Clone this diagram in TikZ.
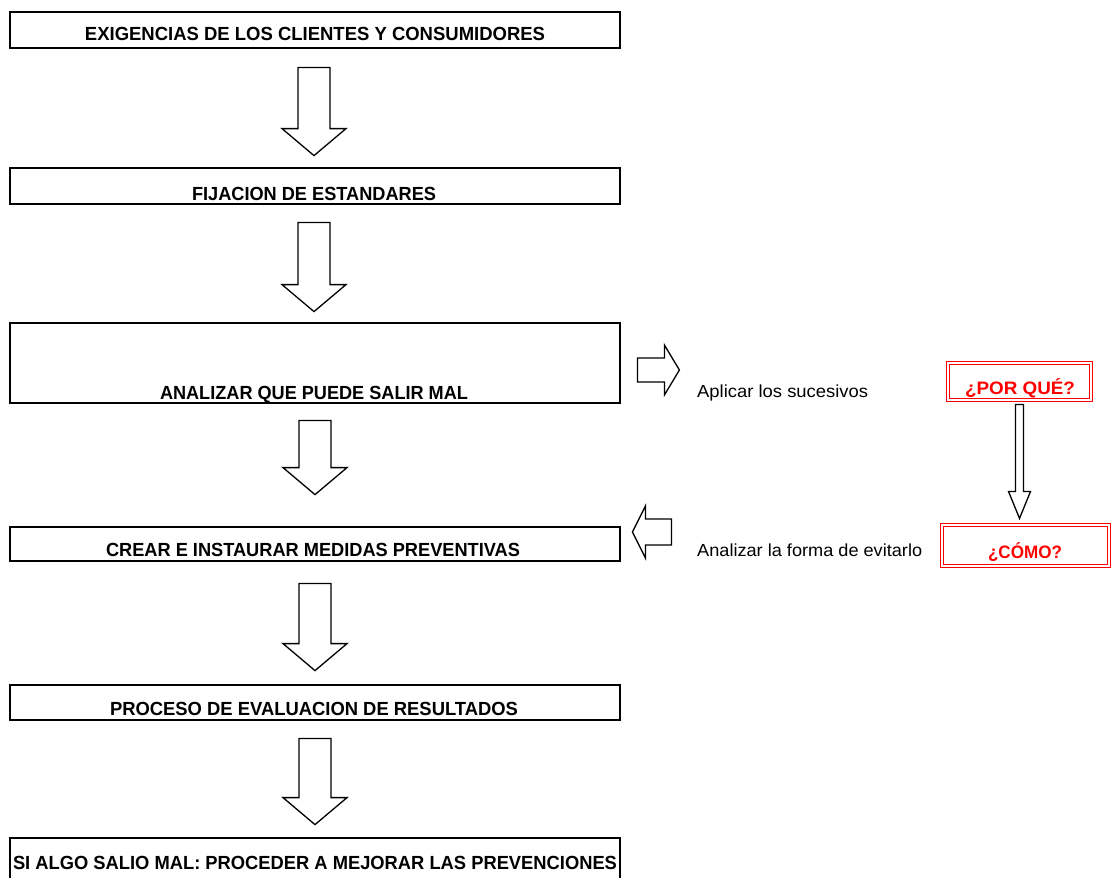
\documentclass[tikz,border=0pt]{standalone}
\usepackage{fontspec}
\setmainfont{Liberation Sans}
\usetikzlibrary{calc}
\newcommand\fitto[2]{\setbox0\hbox{#2}\pgfmathsetmacro\fitfac{#1/\the\wd0}\scalebox{\fitfac}[1]{\box0}}
\newcommand\downblock[4]{\draw[blk] let \p1=(#1),\p2=(#2) in
  (\x1-#3,\y1) -- (\x1+#3,\y1) -- (\x1+#3,\y2+27pt) -- (\x1+#4,\y2+27pt) -- (\x1,\y2)
  -- (\x1-#4,\y2+27pt) -- (\x1-#3,\y2+27pt) -- cycle;}
\newcommand\sideblock[5]{\draw[blk] let \p1=(#1),\p2=(#2) in
  (\x1,\y1-#3) -- (\x1,\y1+#3) -- (\x2-#5,\y1+#3) -- (\x2-#5,\y1+#4) -- (\x2,\y1)
  -- (\x2-#5,\y1-#4) -- (\x2-#5,\y1-#3) -- cycle;}
\begin{document}
\begin{tikzpicture}[x=1pt,y=-1pt,
  box/.style={draw=black,line width=2.8pt,minimum width=610pt,inner sep=0pt},
  btxt/.style={anchor=base,inner sep=0pt,font=\fontsize{19}{21}\selectfont\bfseries},
  stxt/.style={anchor=base west,inner sep=0pt,font=\fontsize{17.5}{20}\selectfont},
  rbox/.style={draw=red,line width=1.1pt,double=white,double distance=2.2pt,inner sep=0pt},
  rtxt/.style={anchor=base,inner sep=0pt,text=red,font=\fontsize{18}{20}\selectfont\bfseries},
  blk/.style={draw=black,line width=1.3pt,fill=white,line join=miter}]
\useasboundingbox (0,0) rectangle (1111,878);
% main boxes
\node[box,minimum height=36pt] (b1) at (315,30) {};
\node[box,minimum height=36pt] (b2) at (315,186) {};
\node[box,minimum height=80pt] (b3) at (315,363) {};
\node[box,minimum height=34pt] (b4) at (315,544) {};
\node[box,minimum height=35pt] (b5) at (315,702.5) {};
\node[box,minimum height=50pt] (b6) at (315,863) {};
% texts
\node[btxt] (t1) at (315,40.5) {\fitto{460}{EXIGENCIAS DE LOS CLIENTES Y  CONSUMIDORES}};
\node[btxt] (t2) at (314,200) {\fitto{244}{FIJACION DE ESTANDARES}};
\node[btxt] (t3) at (314,399) {\fitto{308}{ANALIZAR QUE PUEDE SALIR MAL}};
\node[btxt] (t4) at (313,556) {\fitto{414}{CREAR E INSTAURAR MEDIDAS PREVENTIVAS}};
\node[btxt] (t5) at (314,715) {\fitto{408}{PROCESO DE EVALUACION DE RESULTADOS}};
\node[btxt] (t6) at (315,869) {\fitto{604}{SI ALGO SALIO MAL: PROCEDER A MEJORAR LAS PREVENCIONES}};
% down block arrows
\coordinate (a1t) at ($(b1.south)+(-1,18)$);
\coordinate (a1b) at ($(b2.north)+(-1,-11)$);
\coordinate (a2t) at ($(b2.south)+(-1,17)$);
\coordinate (a2b) at ($(b3.north)+(-1,-10)$);
\coordinate (a3t) at ($(b3.south)+(0,16)$);
\coordinate (a3b) at ($(b4.north)+(0,-31)$);
\coordinate (a4t) at ($(b4.south)+(0,21)$);
\coordinate (a4b) at ($(b5.north)+(0,-13)$);
\coordinate (a5t) at ($(b5.south)+(0,17)$);
\coordinate (a5b) at ($(b6.north)+(0,-12)$);
\downblock{a1t}{a1b}{16pt}{32pt}
\downblock{a2t}{a2b}{16pt}{32pt}
\downblock{a3t}{a3b}{16pt}{32pt}
\downblock{a4t}{a4b}{16pt}{32pt}
\downblock{a5t}{a5b}{16pt}{32pt}
% right side
\node[stxt] (ap) at (697,397) {\fitto{171}{Aplicar los sucesivos}};
\node[stxt] (an) at (697,556) {\fitto{225}{Analizar la forma de evitarlo}};
\node[rbox,minimum width=143pt,minimum height=37pt] (por) at (1019.5,381.5) {};
\node[rtxt] (tpor) at (1020,394) {\fitto{110}{¿POR QUÉ?}};
\node[rbox,minimum width=167pt,minimum height=41pt] (como) at (1025.5,545.5) {};
\node[rtxt] (tcomo) at (1025,558) {\fitto{74}{¿CÓMO?}};
\coordinate (vt) at ($(por.south)+(0,4)$);
\coordinate (vb) at ($(como.north)+(-6,-6)$);
\draw[blk] let \p1=(vt),\p2=(vb) in
  (\x2-4pt,\y1) -- (\x2+4pt,\y1) -- (\x2+4pt,\y2+27pt) -- (\x2+11pt,\y2+27pt) -- (\x2,\y2)
  -- (\x2-11pt,\y2+27pt) -- (\x2-4pt,\y2+27pt) -- cycle;
% horizontal block arrows
\coordinate (r1s) at ($(b3.east)+(16,7)$);
\coordinate (r1e) at ($(b3.east)+(58,7)$);
\sideblock{r1s}{r1e}{12pt}{25pt}{15pt}
\coordinate (l1s) at ($(b4.east)+(50,-12)$);
\coordinate (l1e) at ($(b4.east)+(11,-12)$);
\sideblock{l1s}{l1e}{13pt}{26pt}{-13pt}
\end{tikzpicture}
\end{document}
